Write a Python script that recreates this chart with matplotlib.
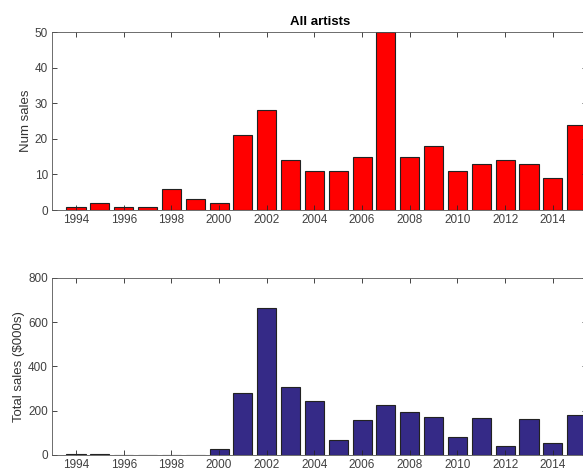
#!/usr/bin/env python3
"""Yearly sales counts and totals for all artists (two stacked bar panels)."""

import matplotlib
matplotlib.use("Agg")
import matplotlib.pyplot as plt

years = list(range(1994, 2016))
num_sales = [1, 2, 1, 1, 6, 3, 2, 21, 28, 14, 11, 11, 15, 50, 15, 18, 11, 13, 14, 13, 9, 24]
total_sales = [3, 6, 1, 0.5, 1, 1, 25, 282, 664, 309, 246, 69, 160, 228, 195, 172, 80, 166, 39, 164, 53, 180]

year_ticks = list(range(1994, 2015, 2))
num_ticks = [0, 10, 20, 30, 40, 50]
total_ticks = [0, 200, 400, 600, 800]

RED = "#ff0000"
NAVY = "#352a87"
AX_COLOR = "#262626"

plt.rcParams["font.family"] = ["Liberation Sans", "DejaVu Sans"]
plt.rcParams["font.size"] = 8.5


def style(ax, yticks):
    ax.set_xlim(1993, 2015.45)
    ax.set_ylim(yticks[0], yticks[-1])
    ax.set_xticks(year_ticks)
    ax.set_yticks(yticks)
    ax.tick_params(direction="in", length=3.5, width=0.6, top=True, right=True,
                   colors=AX_COLOR, labelcolor="#404040", labelsize=8.5, pad=3)
    for side in ax.spines.values():
        side.set_linewidth(0.6)
        side.set_color("#555555")


fig = plt.figure(figsize=(5.83, 4.71), dpi=100)
ax1 = fig.add_axes([0.0895, 0.554, 0.918, 0.378])
ax2 = fig.add_axes([0.0895, 0.034, 0.918, 0.376])

ax1.bar(years, num_sales, width=0.8, color=RED, edgecolor="#222222", linewidth=0.8)
style(ax1, num_ticks)
ax1.set_ylabel("Num sales", color="#333333", fontsize=9.5, labelpad=2)
ax1.set_title("All artists", fontsize=9.5, fontweight="bold", pad=5)

ax2.bar(years, total_sales, width=0.8, color=NAVY, edgecolor="#222222", linewidth=0.8)
style(ax2, total_ticks)
ax2.set_ylabel(r"Total sales (\$000s)", color="#333333", fontsize=9.5, labelpad=2)

fig.savefig("out.png", dpi=100)
